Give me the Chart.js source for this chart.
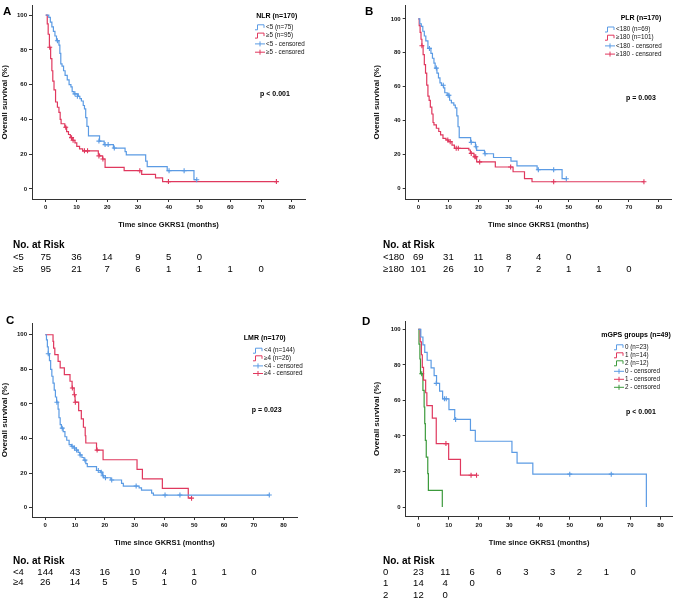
<!DOCTYPE html>
<html>
<head>
<meta charset="utf-8">
<script src="https://cdn.jsdelivr.net/npm/chart.js@4.4.1/dist/chart.umd.min.js"></script>
<style>
body { margin: 0; background: #fff; }
#wrap { position: relative; width: 676px; height: 601px; }
canvas { position: absolute; }
</style>
</head>
<body>
<div id="wrap">
  <canvas id="cA" width="338" height="300" style="left:0;top:0"></canvas>
  <canvas id="cB" width="338" height="300" style="left:338px;top:0"></canvas>
  <canvas id="cC" width="338" height="301" style="left:0;top:300px"></canvas>
  <canvas id="cD" width="338" height="301" style="left:338px;top:300px"></canvas>
</div>
<script>
// ticks
var xTicks = [0, 10, 20, 30, 40, 50, 60, 70, 80];
var yTicks = [0, 20, 40, 60, 80, 100];

// A - NLR  [months, survival %]
var nlrLow = [[0,100],[1.0,98.7],[1.5,96],[2.0,93.3],[2.5,90.7],[3.0,88],[3.5,85.3],[4.3,82.7],[4.6,78],[4.9,72],[5.3,70.7],[5.8,68],[6.3,65.3],[7.0,62.7],[7.6,60],[8.2,58.7],[8.6,56],[9.2,54.7],[10.6,53.3],[11.1,52],[11.6,50.6],[12.2,48],[12.6,46],[13.0,41],[13.4,36],[13.9,30.5],[17.5,27.5],[19.0,25.5],[22.0,23.5],[25.8,21.5],[26.2,19.6],[32.5,16],[33.0,12.8],[39.5,10.5],[48.2,5.3],[49.1,5.3]];
var nlrLowCens = [[3.8,85.3],[9.5,54.7],[10.3,53.3],[17.3,27.5],[19.3,25.5],[20.3,25.5],[22.3,23.5],[40.1,10.5],[45.0,10.5],[49.1,5.3]];
var nlrHigh = [[0,100],[0.5,95],[0.8,89],[1.2,81.5],[1.6,75],[2.0,68],[2.3,62],[2.7,57],[3.2,50],[3.8,47],[4.3,44],[4.7,40],[5.0,37.5],[6.2,35.5],[6.8,33],[7.4,31.3],[8.0,29.5],[8.8,28],[9.5,26.5],[10.1,24.5],[11.0,23],[12.0,21.9],[17.1,20],[17.5,19],[18.5,17.2],[19.3,12.4],[25.5,10.5],[31.2,8.3],[35.7,6.3],[38.0,4.2],[75,4.2]];
var nlrHighCens = [[1.3,81.5],[6.5,35.5],[8.4,29.5],[8.9,28],[12.6,21.9],[13.6,21.9],[17.3,19],[18.6,17.2],[30.6,10.5],[39.9,4.2],[75,4.2]];
var nlrRiskLow = [75, 36, 14, 9, 5, 0];
var nlrRiskHigh = [95, 21, 7, 6, 1, 1, 1, 0];

// B - PLR
var plrLow = [[0,100],[0.5,97],[1.0,95.6],[1.5,92.7],[2.0,89.9],[2.5,87],[3.2,82.6],[4.2,79.7],[4.7,76.8],[5.2,73.9],[5.6,71],[6.2,68.1],[6.7,65.2],[7.2,62.3],[7.7,60.9],[8.4,59.4],[8.8,56.5],[9.6,55],[10.4,52.1],[11.0,50.6],[11.8,49.2],[12.3,47.6],[12.8,42.9],[13.2,36.5],[13.6,30.1],[17.4,27.3],[19.0,24.7],[19.4,22.6],[22.0,20.6],[25.0,18.4],[30.8,16.2],[32.8,13.5],[39.5,11.2],[47.8,5.9],[49.2,5.9]];
var plrLowCens = [[3.7,82.6],[6.0,71],[8.3,60.9],[9.9,55],[10.2,55],[17.6,27.3],[19.2,24.7],[22.2,20.6],[39.9,11.2],[45,11.2],[49.2,5.9]];
var plrHigh = [[0,100],[0.3,96],[0.6,92],[0.9,88],[1.2,84.2],[1.6,79],[2.0,73],[2.4,68],[2.8,61],[3.2,54.5],[3.6,52],[4.0,48],[4.5,44],[4.9,39],[5.2,37.6],[6.0,35.6],[6.8,33.7],[7.4,31.7],[8.2,29.7],[9.2,28.7],[10.0,27.7],[11.2,25.7],[12.0,23.8],[16.8,22.8],[17.3,20.8],[18.5,18.8],[19.4,15.8],[25.6,12.8],[31.5,10],[35.3,6],[37.8,4.1],[75,4.1]];
var plrHighCens = [[1.2,84.2],[9.8,28.7],[10.6,27.7],[12.6,23.8],[13.3,23.8],[17.6,20.8],[18.8,18.8],[19.1,18.8],[20.4,15.8],[30.7,12.8],[45,4.1],[75,4.1]];
var plrRiskLow = [69, 31, 11, 8, 4, 0];
var plrRiskHigh = [101, 26, 10, 7, 2, 1, 1, 0];

// C - LMR
var lmrLow = [[0,100],[0.4,97],[0.7,93],[1.0,89],[1.4,85],[1.8,80],[2.2,76],[2.6,72],[3.0,68],[3.4,64],[3.8,61],[4.3,57],[4.6,52],[5.0,48],[5.4,46],[6.0,44],[6.6,41],[7.2,39],[8.0,36.5],[8.8,35.5],[9.6,34.5],[10.4,33.3],[11.0,32],[11.6,30.5],[12.3,29],[13.0,27.5],[13.6,25.5],[14.1,23.7],[17.2,21.5],[18.5,20.5],[19.2,18.5],[19.6,17.3],[22.0,16],[25.6,14],[26.2,12.5],[31.5,11.4],[32.3,10.2],[35.7,8.4],[36.3,7.3],[75.2,7.3]];
var lmrLowCens = [[1.0,89],[3.9,61],[5.7,46],[9.0,35.5],[9.8,34.5],[10.5,33.3],[11.7,30.5],[13.3,27.5],[17.8,21.5],[18.8,20.5],[19.4,18.5],[20.2,17.3],[22.3,16],[30.5,12.5],[40.2,7.3],[45.2,7.3],[75.2,7.3]];
var lmrHigh = [[0,100],[2.6,96.2],[2.8,92.3],[3.2,88.5],[4.3,84.6],[5.0,80.8],[6.4,76.9],[8.3,73.1],[9.0,69.2],[9.7,65.3],[10.0,61],[11.2,56.1],[12.1,51.3],[12.8,46.5],[13.4,41.6],[13.6,37.4],[17.2,33.3],[19.4,27.7],[30.8,22.2],[32.6,16.6],[39.3,11.1],[48.0,5.5],[49.1,5.5]];
var lmrHighCens = [[9.1,69.2],[9.8,65.3],[10.1,61],[17.4,33.3],[49.1,5.5]];
var lmrRiskLow = [144, 43, 16, 10, 4, 1, 1, 0];
var lmrRiskHigh = [26, 14, 5, 5, 1, 0];

// D - mGPS
var gps0 = [[0,100],[0.8,95.7],[1.5,91.3],[2.1,87],[2.9,82.6],[4.2,78.3],[5.2,73.9],[6.0,69.6],[7.0,65.2],[8.0,60.9],[10.1,54.8],[12.0,49.3],[17.2,43.1],[18.8,37],[30.9,30.8],[32.6,24.7],[37.8,18.5],[75.3,0]];
var gps0Cens = [[5.9,69.6],[8.6,60.9],[9.2,60.9],[12.3,49.3],[50,18.5],[63.7,18.5]];
var gps1 = [[0,100],[0.6,92.9],[1.0,85.7],[1.3,78.6],[1.7,71.4],[2.4,64.3],[2.8,57.1],[4.6,50],[5.9,35.7],[10.0,26.8],[13.9,17.9],[19.2,17.9]];
var gps1Cens = [[9.1,35.7],[17.4,17.9],[19.2,17.9]];
var gps2 = [[0,100],[0.2,91.7],[0.5,83.3],[0.7,75],[1.5,65.6],[1.9,56.3],[2.1,46.9],[2.3,37.5],[2.6,28.1],[3.1,18.8],[3.3,9.4],[7.9,0]];
var gps2Cens = [[1.1,75]];
var gpsRisk0 = [23, 11, 6, 6, 3, 3, 2, 1, 0];
var gpsRisk1 = [14, 4, 0];
var gpsRisk2 = [12, 0];

var BLUE = '#5b9be4', RED = '#e0385e', GREEN = '#3c9a3c';
var AXIS = '#333';
var FAM = '"Liberation Sans", Arial, sans-serif';

function toXY(arr) {
    return arr.map(function (p) { return {x: p[0], y: p[1]}; });
}

function makeExtras(cfg) {
    return {
        id: 'extras',
        afterDraw: function (chart) {
            var ctx = chart.ctx, xs = chart.scales.x;
            ctx.save();
            ctx.fillStyle = '#000';
            // panel letter
            ctx.font = 'bold 11.5px ' + FAM;
            ctx.textAlign = 'left';
            ctx.textBaseline = 'alphabetic';
            ctx.fillText(cfg.letter, cfg.letterPos[0], cfg.letterPos[1]);

            // legend
            var lg = cfg.legend;
            ctx.textBaseline = 'middle';
            ctx.textAlign = 'center';
            ctx.font = 'bold 7px ' + FAM;
            ctx.fillText(lg.title, lg.cx, lg.ty);
            ctx.font = '6.3px ' + FAM;
            ctx.textAlign = 'left';
            var n = cfg.groups.length;
            for (var i = 0; i < n * 2; i++) {
                var g = cfg.groups[i % n];
                var y = lg.y0 + i * lg.dy;
                var x0 = lg.tx - 11;
                ctx.strokeStyle = g.color;
                ctx.lineWidth = 1;
                ctx.beginPath();
                if (i < n) {
                    ctx.moveTo(x0, y + 2.5);
                    ctx.lineTo(x0 + 2.5, y + 2.5);
                    ctx.lineTo(x0 + 2.5, y - 2.5);
                    ctx.lineTo(x0 + 9, y - 2.5);
                    ctx.lineTo(x0 + 9, y + 0.5);
                } else {
                    ctx.moveTo(x0, y);
                    ctx.lineTo(x0 + 10, y);
                    ctx.moveTo(x0 + 5, y - 2.5);
                    ctx.lineTo(x0 + 5, y + 2.5);
                }
                ctx.stroke();
                ctx.fillStyle = '#111';
                ctx.fillText(i < n ? g.label : g.censLabel, lg.tx, y);
            }

            // p value
            ctx.fillStyle = '#000';
            ctx.textAlign = 'center';
            ctx.font = 'bold 7px ' + FAM;
            ctx.fillText(cfg.p, cfg.pPos[0], cfg.pPos[1]);

            // number at risk
            var rk = cfg.risk;
            ctx.textAlign = 'left';
            ctx.font = 'bold 10px ' + FAM;
            ctx.fillText('No. at Risk', rk.x, rk.ty);
            ctx.font = '9.5px ' + FAM;
            rk.rows.forEach(function (row, r) {
                var ry = rk.y0 + r * rk.dy;
                ctx.textAlign = 'left';
                ctx.fillText(row.label, rk.x, ry);
                ctx.textAlign = 'center';
                row.values.forEach(function (v, j) {
                    ctx.fillText(String(v), xs.getPixelForValue(j * rk.step), ry);
                });
            });
            ctx.restore();
        }
    };
}

function kmChart(id, cfg) {
    var ds = [];
    cfg.groups.forEach(function (g) {
        ds.push({data: toXY(g.curve), showLine: true, stepped: true, borderColor: g.color,
                 borderWidth: 1.2, pointRadius: 0, pointHoverRadius: 0, fill: false});
        ds.push({data: toXY(g.cens), showLine: false, pointStyle: 'cross', pointRadius: 2.5,
                 pointHoverRadius: 2.5, borderColor: g.color, backgroundColor: g.color, borderWidth: 1.1});
    });
    var tickFont = {family: FAM, size: 6, weight: 'bold'};
    return new Chart(document.getElementById(id), {
        type: 'scatter',
        data: {datasets: ds},
        options: {
            responsive: false,
            animation: false,
            events: [],
            layout: {padding: cfg.pad},
            plugins: {legend: {display: false}, tooltip: {enabled: false}},
            scales: {
                x: {
                    type: 'linear', min: cfg.xRange[0], max: cfg.xRange[1],
                    afterBuildTicks: function (s) { s.ticks = xTicks.map(function (v) { return {value: v}; }); },
                    afterFit: function (s) { s.height = 31; },
                    grid: {drawOnChartArea: false, drawTicks: true, tickLength: 3, color: AXIS},
                    border: {color: AXIS, width: 1},
                    ticks: {font: tickFont, color: '#111', padding: 2, maxRotation: 0},
                    title: {display: true, text: 'Time since GKRS1 (months)', color: '#111',
                            font: {family: FAM, size: 7.5, weight: 'bold'}, padding: {top: 0, bottom: 0.5}}
                },
                y: {
                    type: 'linear', min: cfg.yRange[0], max: cfg.yRange[1],
                    afterBuildTicks: function (s) { s.ticks = yTicks.map(function (v) { return {value: v}; }); },
                    afterFit: function (s) { s.width = cfg.yW; },
                    grid: {drawOnChartArea: false, drawTicks: true, tickLength: 3, color: AXIS},
                    border: {color: AXIS, width: 1},
                    ticks: {font: tickFont, color: '#111', padding: 2},
                    title: {display: true, text: 'Overall survival (%)', color: '#111',
                            font: {family: FAM, size: 8, weight: 'bold'}, padding: {top: 0, bottom: 0}}
                }
            }
        },
        plugins: [makeExtras(cfg)]
    });
}

kmChart('cA', {
    letter: 'A', letterPos: [3, 15],
    pad: {left: 0, top: 2, right: 33, bottom: 70}, yW: 32,
    xRange: [-4.46, 84.3], yRange: [-5.82, 105.5],
    groups: [
        {label: '<5 (n=75)', censLabel: '<5 - censored', color: BLUE, curve: nlrLow, cens: nlrLowCens},
        {label: '\u22655 (n=95)', censLabel: '\u22655 - censored', color: RED, curve: nlrHigh, cens: nlrHighCens}
    ],
    legend: {title: 'NLR (n=170)', cx: 276.7, ty: 16, tx: 266, y0: 27.3, dy: 8.3},
    p: 'p < 0.001', pPos: [275, 94.3],
    risk: {x: 13, ty: 245, y0: 257, dy: 12, step: 10, rows: [
        {label: '<5', values: nlrRiskLow},
        {label: '\u22655', values: nlrRiskHigh}
    ]}
});

kmChart('cB', {
    letter: 'B', letterPos: [27, 15],
    pad: {left: 34, top: 5, right: 5, bottom: 70}, yW: 33.7,
    xRange: [-4.19, 84.0], yRange: [-6.04, 107.8],
    groups: [
        {label: '<180 (n=69)', censLabel: '<180 - censored', color: BLUE, curve: plrLow, cens: plrLowCens},
        {label: '\u2265180 (n=101)', censLabel: '\u2265180 - censored', color: RED, curve: plrHigh, cens: plrHighCens}
    ],
    legend: {title: 'PLR (n=170)', cx: 303, ty: 18, tx: 278, y0: 29.5, dy: 8.2},
    p: 'p = 0.003', pPos: [303, 97.7],
    risk: {x: 45, ty: 245, y0: 257, dy: 12, step: 10, rows: [
        {label: '<180', values: plrRiskLow},
        {label: '\u2265180', values: plrRiskHigh}
    ]}
});

kmChart('cC', {
    letter: 'C', letterPos: [6, 24],
    pad: {left: 0, top: 23, right: 41, bottom: 53}, yW: 32,
    xRange: [-4.46, 84.5], yRange: [-5.4, 106.8],
    groups: [
        {label: '<4 (n=144)', censLabel: '<4 - censored', color: BLUE, curve: lmrLow, cens: lmrLowCens},
        {label: '\u22654 (n=26)', censLabel: '\u22654 - censored', color: RED, curve: lmrHigh, cens: lmrHighCens}
    ],
    legend: {title: 'LMR (n=170)', cx: 264.7, ty: 38.3, tx: 264, y0: 50.7, dy: 7.6},
    p: 'p = 0.023', pPos: [266.7, 110],
    risk: {x: 13, ty: 261, y0: 272.7, dy: 10, step: 10, rows: [
        {label: '<4', values: lmrRiskLow},
        {label: '\u22654', values: lmrRiskHigh}
    ]}
});

kmChart('cD', {
    letter: 'D', letterPos: [24, 25],
    pad: {left: 34, top: 21, right: 3, bottom: 53.3}, yW: 33.7,
    xRange: [-4.19, 83.9], yRange: [-5.46, 104.7],
    groups: [
        {label: '0 (n=23)', censLabel: '0 - censored', color: BLUE, curve: gps0, cens: gps0Cens},
        {label: '1 (n=14)', censLabel: '1 - censored', color: RED, curve: gps1, cens: gps1Cens},
        {label: '2 (n=12)', censLabel: '2 - censored', color: GREEN, curve: gps2, cens: gps2Cens}
    ],
    legend: {title: 'mGPS groups (n=49)', cx: 298, ty: 35, tx: 287, y0: 47.3, dy: 8},
    p: 'p < 0.001', pPos: [303, 111.7],
    risk: {x: 45, ty: 261.7, y0: 272, dy: 11.5, step: 8.87, rows: [
        {label: '0', values: gpsRisk0},
        {label: '1', values: gpsRisk1},
        {label: '2', values: gpsRisk2}
    ]}
});
</script>
</body>
</html>
